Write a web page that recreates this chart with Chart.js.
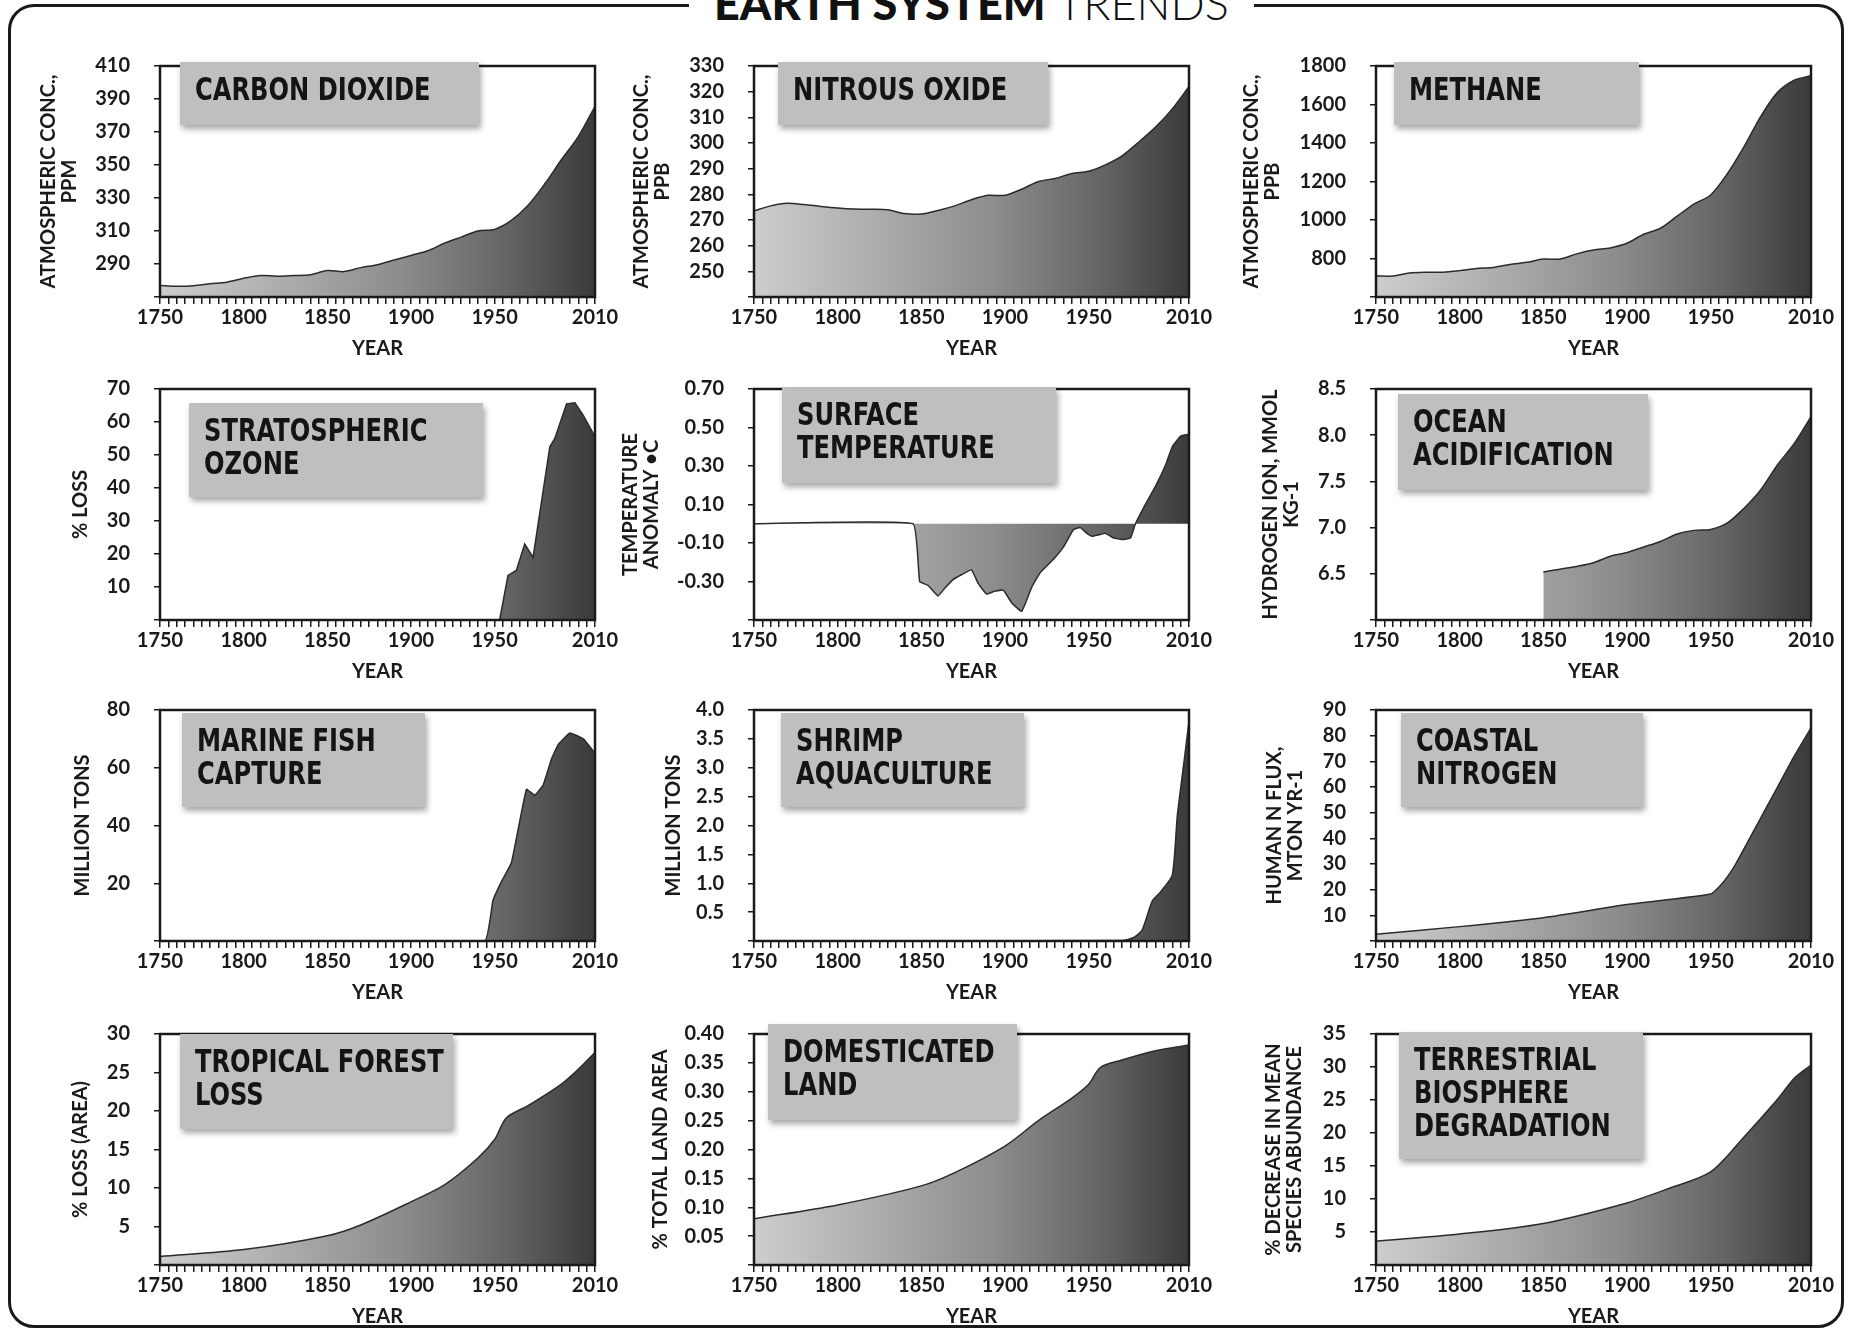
<!DOCTYPE html>
<html>
<head>
<meta charset="utf-8">
<title>Earth System Trends</title>
<script src="https://cdn.jsdelivr.net/npm/chart.js@4.4.1/dist/chart.umd.min.js"></script>
<style>
  html, body { margin: 0; padding: 0; background: #fff; }
  #page { position: relative; width: 1850px; height: 1332px; overflow: hidden; background: #fff; }
  #frame { position: absolute; left: 8px; top: 4px; width: 1836px; height: 1324px;
           border: 3px solid #1a1a1a; border-radius: 26px; box-sizing: border-box; }
  #title { position: absolute; top: -19px; left: 689px; padding: 0 25px; background: #fff;
           font-family: Lato, 'Open Sans', sans-serif; font-size: 45px; line-height: 45px;
           color: #111; white-space: nowrap; }
  #title b { font-weight: 900; }
  #title span { font-weight: 300; }
  canvas { position: absolute; }
  .tag { position: absolute; background: #bfbfbf; box-shadow: 2px 4px 6px rgba(0,0,0,0.35);
         box-sizing: border-box; padding: 11px 0 0 15px;
         font-family: 'Liberation Sans Narrow', 'Arial Narrow', 'DejaVu Sans Condensed', sans-serif;
         font-weight: bold; font-size: 32px; line-height: 33px; color: #141414; white-space: nowrap; }
  .tag div { transform: scaleX(0.84); transform-origin: 0 0; }
</style>
</head>
<body>
<div id="page">
  <div id="frame"></div>
  <div id="title"><b>EARTH SYSTEM</b> <span>TRENDS</span></div>
</div>
<script>
(function() {
  'use strict';

  // ---- data -------------------------------------------------------------
  var YEAR_LABELS = [1750, 1800, 1850, 1900, 1950, 2010];

  var DECADES = [1750, 1760, 1770, 1780, 1790, 1800, 1810, 1820, 1830, 1840, 1850, 1860, 1870, 1880,
                 1890, 1900, 1910, 1920, 1930, 1940, 1950, 1960, 1970, 1980, 1990, 2000, 2010];

  var CO2_PPM = [277, 276.5, 276.8, 278, 279, 281.3, 283, 282.6, 283, 283.5, 286, 285.4, 287.8, 289.6,
                 292.4, 295.2, 298, 302.6, 306.3, 310, 311, 316.4, 325.6, 338.6, 353.3, 367.2, 385.6];

  var N2O_PPB = [273.5, 275.5, 276.5, 276, 275.3, 274.7, 274.3, 274.2, 274, 272.5, 272.3, 273.7, 275.5, 277.9,
                 279.6, 279.6, 282, 285, 286.2, 288.1, 289, 291.5, 295, 300.4, 306.2, 313.3, 322];

  var CH4_PPB = [709, 709, 725, 729, 729, 737, 748, 753, 769, 780, 797, 797, 824, 844,
                 855, 879, 926, 957, 1020, 1083, 1130, 1240, 1381, 1538, 1663, 1726, 1750];

  var OZONE_YEARS = [1750, 1953, 1958, 1963, 1968, 1973, 1983, 1986, 1993, 1998, 2003, 2010];
  var OZONE_LOSS  = [0, 0, 13.5, 15, 23, 19, 52.5, 55, 65.5, 65.8, 62, 55.5];

  var TEMP_YEARS = [1750, 1845, 1849, 1854, 1860, 1864, 1869, 1874, 1880, 1884, 1889, 1894, 1899, 1904,
                    1910, 1916, 1921, 1929, 1935, 1941, 1945, 1949, 1952, 1956, 1960, 1965, 1970, 1975,
                    1978, 1983, 1990, 1996, 2000, 2005, 2010];
  var TEMP_ANOMALY = [0, 0, -0.30, -0.32, -0.375, -0.335, -0.29, -0.265, -0.24, -0.31, -0.365, -0.35, -0.345, -0.41,
                      -0.455, -0.33, -0.255, -0.185, -0.12, -0.03, -0.02, -0.05, -0.065, -0.058, -0.05, -0.074, -0.082, -0.074,
                      0, 0.085, 0.195, 0.305, 0.40, 0.455, 0.465];

  var OCEAN_YEARS = [1850, 1860, 1870, 1880, 1890, 1900, 1910, 1920, 1930, 1940, 1950, 1960, 1970, 1980,
                     1990, 2000, 2010];
  var OCEAN_H_ION = [6.52, 6.55, 6.58, 6.62, 6.69, 6.73, 6.79, 6.85, 6.93, 6.97, 6.98, 7.05, 7.21, 7.41,
                     7.68, 7.91, 8.20];

  var FISH_YEARS = [1750, 1944, 1949, 1954, 1960, 1969, 1974, 1979, 1984, 1988, 1995, 2003, 2010];
  var FISH_TONS  = [0, 0, 14, 20.5, 27, 52.5, 50.5, 54, 63, 68, 72, 70, 65];

  var SHRIMP_YEARS = [1750, 1970, 1977, 1982, 1988, 1993, 2000, 2003, 2007, 2010];
  var SHRIMP_TONS  = [0, 0.01, 0.06, 0.19, 0.69, 0.85, 1.14, 2.16, 3.1, 3.8];

  var NITRO_YEARS = [1750, 1800, 1850, 1900, 1950, 1955, 1960, 1965, 1980, 1990, 2000, 2010];
  var NITRO_FLUX  = [2.6, 5.6, 9.1, 14.2, 18.3, 21, 25, 30, 48, 60, 72, 83];

  var FOREST_YEARS = [1750, 1800, 1850, 1870, 1900, 1920, 1940, 1950, 1957, 1970, 1990, 2000, 2010];
  var FOREST_LOSS  = [1.1, 2.0, 3.8, 5.2, 8.2, 10.4, 13.9, 16.3, 19.1, 20.7, 23.5, 25.4, 27.6];

  var LAND_YEARS = [1750, 1800, 1850, 1870, 1900, 1920, 1940, 1950, 1957, 1970, 1990, 2010];
  var LAND_SHARE = [0.080, 0.104, 0.137, 0.160, 0.206, 0.250, 0.289, 0.313, 0.342, 0.355, 0.371, 0.381];

  var BIO_YEARS = [1750, 1800, 1850, 1900, 1925, 1950, 1970, 1990, 2000, 2010];
  var BIO_LOSS  = [3.6, 4.7, 6.3, 9.4, 11.6, 14.1, 19.4, 25.1, 28.3, 30.3];

  // ---- layout -----------------------------------------------------------
  var COL_LEFT = [160, 754, 1376];
  var ROW_TOP = [44, 367, 688, 1012];
  var PLOT_W = 435, PLOT_H = 253;
  var AXIS_W = 140, AXIS_H = 64, PAD_TOP = 14, PAD_RIGHT = 36;
  var TITLE_LH = 21;

  var INK = '#1a1a1a';
  var FONT = "Lato, 'Open Sans', sans-serif";
  var TICK_FONT = { family: FONT, size: 20, weight: 'bold' };
  var TITLE_FONT = { family: FONT, size: 20, weight: 'bold', lineHeight: TITLE_LH + 'px' };

  var PANELS = [
    { col: 0, row: 0, x: DECADES, y: CO2_PPM, min: 270, max: 410, step: 20, dec: 0,
      yTitle: ['ATMOSPHERIC CONC.,', 'PPM'], titleX: -111, tag: ['CARBON DIOXIDE'], box: [20, 18, 299, 63], tension: 0.3 },
    { col: 1, row: 0, x: DECADES, y: N2O_PPB, min: 240, max: 330, step: 10, dec: 0,
      yTitle: ['ATMOSPHERIC CONC.,', 'PPB'], titleX: -112, tag: ['NITROUS OXIDE'], box: [24, 18, 270, 63], tension: 0.3 },
    { col: 2, row: 0, x: DECADES, y: CH4_PPB, min: 600, max: 1800, step: 200, dec: 0,
      yTitle: ['ATMOSPHERIC CONC.,', 'PPB'], titleX: -124, tag: ['METHANE'], box: [18, 18, 245, 63], tension: 0.3 },
    { col: 0, row: 1, x: OZONE_YEARS, y: OZONE_LOSS, min: 0, max: 70, step: 10, dec: 0,
      yTitle: ['% LOSS'], titleX: -79, tag: ['STRATOSPHERIC', 'OZONE'], box: [29, 36, 294, 94], tension: 0 },
    { col: 1, row: 1, x: TEMP_YEARS, y: TEMP_ANOMALY, min: -0.5, max: 0.7, step: 0.2, dec: 2, fill: 'origin',
      yTitle: ['TEMPERATURE', 'ANOMALY \u2022C'], titleX: -123, tag: ['SURFACE', 'TEMPERATURE'], box: [28, 20, 274, 96], tension: 0.1 },
    { col: 2, row: 1, x: OCEAN_YEARS, y: OCEAN_H_ION, min: 6.0, max: 8.5, step: 0.5, dec: 1,
      yTitle: ['HYDROGEN ION, MMOL', 'KG-1'], titleX: -105, tag: ['OCEAN', 'ACIDIFICATION'], box: [22, 27, 250, 96], tension: 0.3 },
    { col: 0, row: 2, x: FISH_YEARS, y: FISH_TONS, min: 0, max: 80, step: 20, dec: 0,
      yTitle: ['MILLION TONS'], titleX: -77, tag: ['MARINE FISH', 'CAPTURE'], box: [22, 25, 243, 94], tension: 0.1 },
    { col: 1, row: 2, x: SHRIMP_YEARS, y: SHRIMP_TONS, min: 0, max: 4, step: 0.5, dec: 1,
      yTitle: ['MILLION TONS'], titleX: -80, tag: ['SHRIMP', 'AQUACULTURE'], box: [27, 25, 243, 94], tension: 0.2 },
    { col: 2, row: 2, x: NITRO_YEARS, y: NITRO_FLUX, min: 0, max: 90, step: 10, dec: 0,
      yTitle: ['HUMAN N FLUX,', 'MTON YR-1'], titleX: -101, tag: ['COASTAL', 'NITROGEN'], box: [25, 25, 242, 94], tension: 0.2 },
    { col: 0, row: 3, x: FOREST_YEARS, y: FOREST_LOSS, min: 0, max: 30, step: 5, dec: 0,
      yTitle: ['% LOSS (AREA)'], titleX: -79, tag: ['TROPICAL FOREST', 'LOSS'], box: [20, 22, 273, 95], tension: 0.3 },
    { col: 1, row: 3, x: LAND_YEARS, y: LAND_SHARE, min: 0, max: 0.4, step: 0.05, dec: 2,
      yTitle: ['% TOTAL LAND AREA'], titleX: -93, tag: ['DOMESTICATED', 'LAND'], box: [14, 12, 249, 96], tension: 0.3 },
    { col: 2, row: 3, x: BIO_YEARS, y: BIO_LOSS, min: 0, max: 35, step: 5, dec: 0,
      yTitle: ['% DECREASE IN MEAN', 'SPECIES ABUNDANCE'], titleX: -102, tag: ['TERRESTRIAL', 'BIOSPHERE', 'DEGRADATION'], box: [23, 20, 244, 127], tension: 0.3 }
  ];

  // box around the plot area, drawn over the filled area
  var framePlugin = {
    id: 'plotFrame',
    afterDatasetsDraw: function(chart) {
      var a = chart.chartArea, c = chart.ctx;
      c.save();
      c.strokeStyle = INK;
      c.lineWidth = 2.5;
      c.strokeRect(a.left, a.top, a.right - a.left, a.bottom - a.top);
      c.restore();
    }
  };

  function areaGradient(ctx) {
    var chart = ctx.chart, a = chart.chartArea;
    if (!a) return '#888';
    var g = chart.ctx.createLinearGradient(a.left, 0, a.right, 0);
    g.addColorStop(0, '#cdcdcd');
    g.addColorStop(0.55, '#8d8d8d');
    g.addColorStop(0.8, '#646464');
    g.addColorStop(1, '#3a3a3a');
    return g;
  }

  var page = document.getElementById('page');

  PANELS.forEach(function(p) {
    var plotLeft = COL_LEFT[p.col], plotTop = ROW_TOP[p.row];

    var canvas = document.createElement('canvas');
    var w = AXIS_W + PLOT_W + PAD_RIGHT, h = PAD_TOP + PLOT_H + AXIS_H;
    canvas.width = w; canvas.height = h;
    canvas.style.width = w + 'px'; canvas.style.height = h + 'px';
    canvas.style.left = (plotLeft - AXIS_W) + 'px';
    canvas.style.top = (plotTop - PAD_TOP) + 'px';
    page.appendChild(canvas);

    var points = p.x.map(function(yr, i) { return { x: yr, y: p.y[i] }; });

    new Chart(canvas, {
      type: 'line',
      data: {
        datasets: [{
          data: points,
          fill: p.fill || 'start',
          backgroundColor: areaGradient,
          borderColor: '#2b2b2b',
          borderWidth: 1.5,
          pointRadius: 0,
          tension: p.tension
        }]
      },
      options: {
        responsive: false,
        animation: false,
        layout: { padding: { left: 0, top: PAD_TOP, right: PAD_RIGHT, bottom: 0 } },
        plugins: { legend: { display: false }, tooltip: { enabled: false } },
        scales: {
          x: {
            type: 'linear', min: 1750, max: 2010,
            afterFit: function(s) { s.height = AXIS_H; },
            border: { display: false },
            grid: { drawOnChartArea: false, drawTicks: true, tickLength: 7, color: INK, lineWidth: 1.5 },
            ticks: {
              stepSize: 5, autoSkip: false, maxRotation: 0, padding: 2,
              color: INK, font: TICK_FONT,
              callback: function(v) { return YEAR_LABELS.indexOf(v) >= 0 ? String(v) : ''; }
            },
            title: { display: true, text: 'YEAR', color: INK, font: TITLE_FONT,
                     padding: { top: 0, bottom: AXIS_H - 52 - TITLE_LH / 2 } }
          },
          y: {
            type: 'linear', min: p.min, max: p.max,
            afterFit: function(s) { s.width = AXIS_W; },
            border: { display: false },
            grid: { drawOnChartArea: false, drawTicks: true, tickLength: 6, color: INK, lineWidth: 1.5 },
            ticks: {
              stepSize: p.step, autoSkip: false, padding: 24,
              color: INK, font: TICK_FONT,
              callback: function(v) { return Math.abs(v - p.min) < 1e-9 ? '' : v.toFixed(p.dec); }
            },
            title: { display: true, text: p.yTitle, color: INK, font: TITLE_FONT,
                     padding: { top: AXIS_W + p.titleX - TITLE_LH / 2, bottom: 0 } }
          }
        }
      },
      plugins: [framePlugin]
    });

    var tag = document.createElement('div');
    tag.className = 'tag';
    tag.style.left = (plotLeft + p.box[0]) + 'px';
    tag.style.top = (plotTop + p.box[1]) + 'px';
    tag.style.width = p.box[2] + 'px';
    tag.style.height = p.box[3] + 'px';
    p.tag.forEach(function(line) {
      var d = document.createElement('div');
      d.textContent = line;
      tag.appendChild(d);
    });
    page.appendChild(tag);
  });
})();
</script>
</body>
</html>
